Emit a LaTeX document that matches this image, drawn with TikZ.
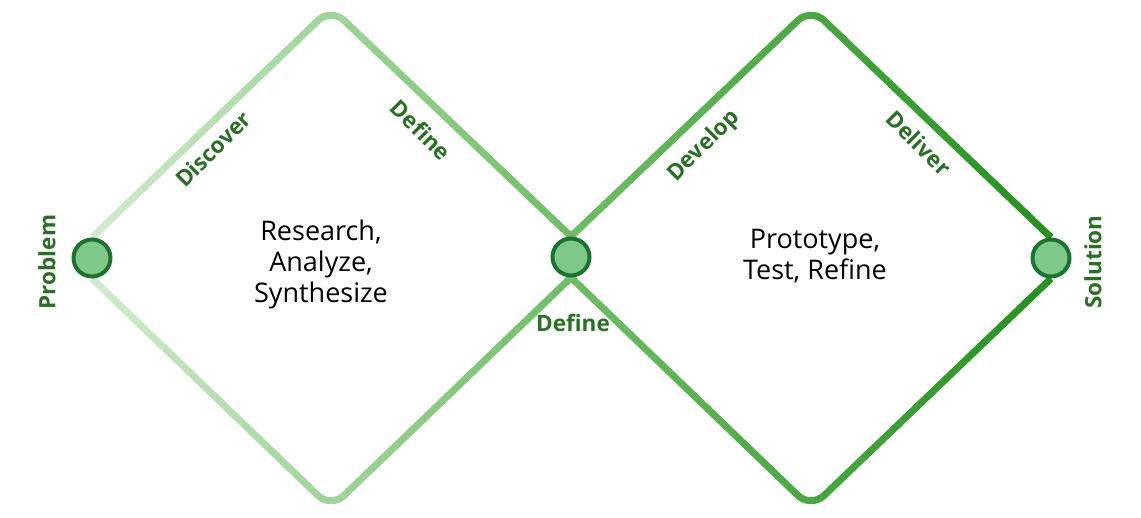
\documentclass[tikz,border=0pt]{standalone}
\usepackage{fontspec}
\setmainfont{Open Sans}
\usetikzlibrary{backgrounds}
\definecolor{startgreen}{HTML}{D2EBCE}
\definecolor{midgreen}{HTML}{6FBD66}
\definecolor{endgreen}{HTML}{24901F}
\definecolor{labelgreen}{HTML}{2B6E25}
\definecolor{dotfill}{HTML}{80C88A}
\definecolor{dotline}{HTML}{1C7330}
\tikzset{
  stage/.style={circle, draw=dotline, fill=dotfill, line width=4pt, minimum size=37pt, inner sep=0pt},
  phase/.style={text=labelgreen, font=\fontsize{22.5}{26}\selectfont\bfseries},
  track/.style={line width=7pt, rounded corners=18pt},
  summary/.style={align=center, font=\fontsize{27}{31}\selectfont}
}
\begin{document}
\begin{tikzpicture}[x=1pt,y=-1pt]
\useasboundingbox (0,0) rectangle (1141,518);
\node[stage] (prob) at (92,258) {};
\node[stage] (defn) at (571,257) {};
\node[stage] (sol) at (1051,258) {};
\coordinate (top1) at (331,8);
\coordinate (bot1) at (331,508);
\coordinate (top2) at (811,8);
\coordinate (bot2) at (811,508);
% the two diamonds, shaded left to right in thin strips
\begin{pgfonlayer}{background}
\foreach \k in {0,...,39} {
  \pgfmathsetmacro\xl{60+\k*26}
  \pgfmathsetmacro\xc{\xl+13}
  \ifdim\xc pt<571pt
    \pgfmathsetmacro\p{max(0,min(100,(\xc-92)/479*100))}
    \colorlet{trackc}{midgreen!\p!startgreen}
  \else
    \pgfmathsetmacro\p{max(0,min(100,(\xc-571)/480*100))}
    \colorlet{trackc}{endgreen!\p!midgreen}
  \fi
  \begin{scope}
    \clip (\xl,0) rectangle ++(26.6,518);
    \draw[track, trackc] (prob.north) -- (top1) -- (defn.north);
    \draw[track, trackc] (prob.south) -- (bot1) -- (defn.south);
    \draw[track, trackc] (defn.north) -- (top2) -- (sol.north);
    \draw[track, trackc] (defn.south) -- (bot2) -- (sol.south);
  \end{scope}
}
\end{pgfonlayer}
% phase labels
\node[phase, rotate=90] (problbl) at (47,262) {Problem};
\node[phase, rotate=90] (sollbl) at (1093,262) {Solution};
\node[phase, rotate=45] (disc) at (213,149) {Discover};
\node[phase, rotate=-45] (deftop) at (421,130) {Define};
\node[phase, rotate=45] (devl) at (704,146) {Develop};
\node[phase, rotate=-45] (delv) at (919,143) {Deliver};
\node[phase] (defbot) at (573,323) {Define};
% what happens inside each diamond
\node[summary] (research) at (321,264) {Research,\\Analyze,\\Synthesize};
\node[summary] (proto) at (815,256) {Prototype,\\Test, Refine};
\end{tikzpicture}
\end{document}
